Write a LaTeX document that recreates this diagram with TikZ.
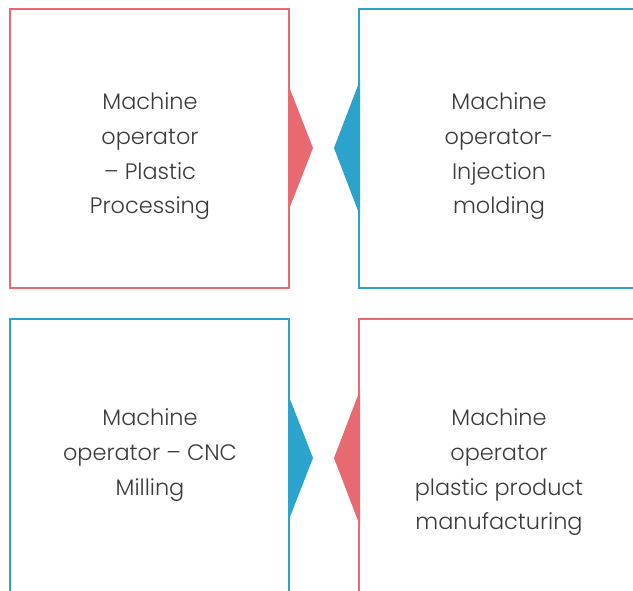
\documentclass[tikz,border=0pt]{standalone}
\usepackage{fontspec}
\setmainfont{Poppins Light}
\definecolor{cred}{HTML}{E86A70}
\definecolor{cblue}{HTML}{2BA3CC}
\definecolor{ctext}{HTML}{3A3A3A}
\begin{document}
\begin{tikzpicture}[x=1pt,y=-1pt,
  box/.style={draw,line width=2pt},
  lbl/.style={align=center,text=ctext,font=\fontsize{22.4}{34.7}\selectfont,inner sep=0pt}]
\useasboundingbox (0,0) rectangle (633,591);
\clip (0,0) rectangle (633,591);
% boxes
\draw[box,cred] (10,9) rectangle (289,288);
\draw[box,cblue] (359,9) rectangle (645,288);
\draw[box,cblue] (10,319) rectangle (289,610);
\draw[box,cred] (359,319) rectangle (645,610);
% pointers
\fill[cred] (288,84) -- (313,148) -- (288,212) -- cycle;
\fill[cblue] (360,80) -- (334,148) -- (360,216) -- cycle;
\fill[cblue] (288,394) -- (313,458) -- (288,522) -- cycle;
\fill[cred] (360,390) -- (334,458) -- (360,526) -- cycle;
% labels
\node[lbl] (t1) at (150,156.5) {Machine\\operator\\– Plastic\\Processing};
\node[lbl] (t2) at (499,156.5) {Machine\\operator-\\Injection\\molding};
\node[lbl] (t3) at (150,455) {Machine\\operator – CNC\\Milling};
\node[lbl] (t4) at (499,472.5) {Machine\\operator\\plastic product\\manufacturing};
\end{tikzpicture}
\end{document}
